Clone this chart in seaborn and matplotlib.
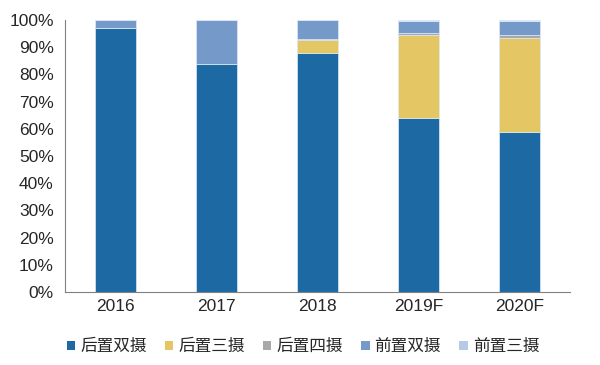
import numpy as np
import pandas as pd
import matplotlib
matplotlib.use("Agg")
import matplotlib.pyplot as plt
import seaborn as sns
from matplotlib.patches import Patch

# ==============================
# DATA
# ==============================

years = ["2016", "2017", "2018", "2019F", "2020F"]
rear_dual = [97.0, 84.0, 88.0, 64.0, 59.0]
rear_triple = [0.0, 0.0, 4.5, 30.5, 34.5]
rear_quad = [0.0, 0.0, 0.5, 0.7, 1.0]
front_dual = [3.0, 16.0, 7.0, 4.5, 5.2]
front_triple = [0.0, 0.0, 0.0, 0.3, 0.3]

series_names = ["后置双摄", "后置三摄", "后置四摄", "前置双摄", "前置三摄"]
series_values = [rear_dual, rear_triple, rear_quad, front_dual, front_triple]
colors = ["#1C69A4", "#E4C665", "#A9A9A9", "#7599C8", "#B5CAE6"]

# ==============================
# PLOT
# ==============================

sns.set_style("white")
plt.rcParams["font.family"] = ["Liberation Sans", "DejaVu Sans"]

fig = plt.figure(figsize=(6, 3.65), dpi=100)
ax = fig.add_axes([0.108, 0.2, 0.842, 0.745])

bottom = np.zeros(len(years))
for name, vals, col in zip(series_names, series_values, colors):
    df = pd.DataFrame({"year": years, "value": vals})
    sns.barplot(data=df, x="year", y="value", color=col, width=0.4,
                bottom=bottom, ax=ax, edgecolor="#DDEAF6", linewidth=0.5,
                saturation=1)
    bottom = bottom + np.array(vals)

ax.set_ylim(0, 100)
ax.set_xlim(-0.5, len(years) - 0.5)
ax.set_yticks(np.arange(0, 101, 10))
ax.set_yticklabels([f"{v}%" for v in range(0, 101, 10)], fontsize=12.5)
ax.tick_params(axis="x", length=0, labelsize=12.5, pad=5)
ax.tick_params(axis="y", length=4, width=0.8, color="#808080", direction="out", pad=4)
ax.set_xlabel("")
ax.set_ylabel("")

for s in ["top", "right"]:
    ax.spines[s].set_visible(False)
for s in ["left", "bottom"]:
    ax.spines[s].set_color("#808080")
    ax.spines[s].set_linewidth(0.8)

handles = [Patch(facecolor=c, edgecolor="none") for c in colors]
fig.legend(handles, series_names, loc="center", bbox_to_anchor=(0.505, 0.05),
           ncol=5, frameon=False, handlelength=0.5, handleheight=0.5,
           handletextpad=0.3, columnspacing=1.1,
           prop={"family": ["Noto Sans CJK SC", "DejaVu Sans"], "size": 12})

fig.savefig("out.png", dpi=100)
